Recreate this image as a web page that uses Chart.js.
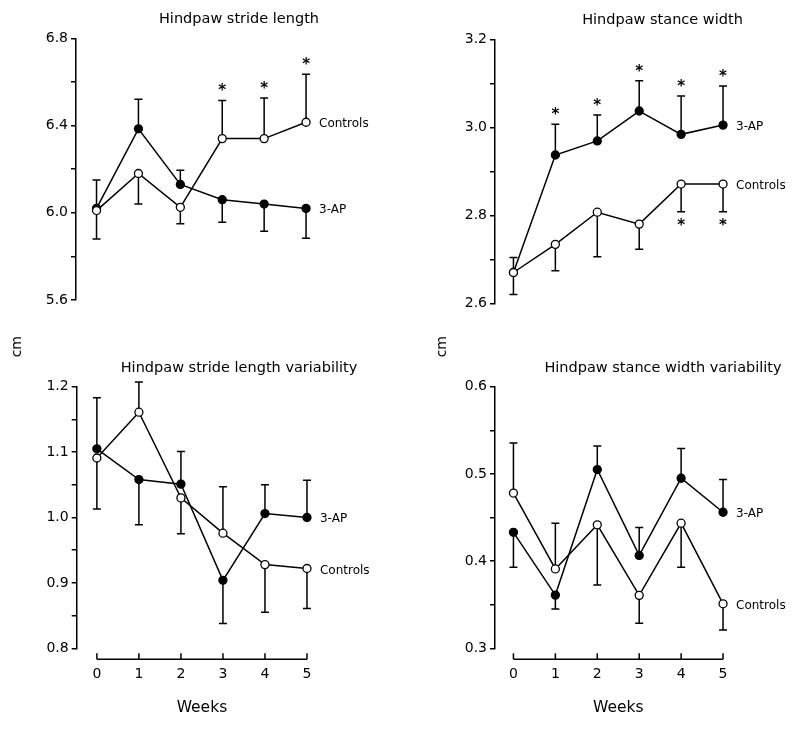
<!DOCTYPE html>
<html><head><meta charset="utf-8">
<script src="https://cdn.jsdelivr.net/npm/chart.js@4.4.1/dist/chart.umd.min.js"></script>
<style>
html,body{margin:0;padding:0;background:#fff;}
#wrap{position:relative;width:800px;height:733px;overflow:hidden;background:#fff;}
#wrap canvas{position:absolute;left:0;top:0;}
</style></head><body>
<div id="wrap">
<canvas id="c1" width="800" height="733"></canvas>
<canvas id="c2" width="800" height="733"></canvas>
<canvas id="c3" width="800" height="733"></canvas>
<canvas id="c4" width="800" height="733"></canvas>
</div>
<script>
// ---------- data ----------
const weeks = [0, 1, 2, 3, 4, 5];
const weekLabels = ['0', '1', '2', '3', '4', '5'];
const seriesNames = ['3-AP', 'Controls'];
const xTitle = 'Weeks';
const yUnit = 'cm';

// Panel 1: Hindpaw stride length
const title1 = 'Hindpaw stride length';
const ticks1 = [5.6, 6.0, 6.4, 6.8];
const ap1 = [6.02, 6.385, 6.13, 6.06, 6.04, 6.02];
const ap1Err = [0.14, 0.135, 0.065, 0.104, 0.125, 0.137];
const ap1Side = [-1, 1, 1, -1, -1, -1];
const ap1Sig = [0, 0, 0, 0, 0, 0];
const ctl1 = [6.01, 6.18, 6.025, 6.34, 6.34, 6.415];
const ctl1Err = [0.14, 0.14, 0.075, 0.175, 0.186, 0.22];
const ctl1Side = [1, -1, -1, 1, 1, 1];
const ctl1Sig = [0, 0, 0, 1, 1, 1];

// Panel 2: Hindpaw stance width
const title2 = 'Hindpaw stance width';
const ticks2 = [2.6, 2.8, 3.0, 3.2];
const ap2 = [2.67, 2.937, 2.969, 3.037, 2.984, 3.005];
const ap2Err = [0.034, 0.07, 0.059, 0.069, 0.087, 0.089];
const ap2Side = [1, 1, 1, 1, 1, 1];
const ap2Sig = [0, 1, 1, 1, 1, 1];
const ctl2 = [2.67, 2.734, 2.807, 2.78, 2.871, 2.871];
const ctl2Err = [0.05, 0.06, 0.101, 0.057, 0.063, 0.063];
const ctl2Side = [-1, -1, -1, -1, -1, -1];
const ctl2Sig = [0, 0, 0, 0, 1, 1];

// Panel 3: Hindpaw stride length variability
const title3 = 'Hindpaw stride length variability';
const ticks3 = [0.8, 0.9, 1.0, 1.1, 1.2];
const ap3 = [1.105, 1.058, 1.051, 0.904, 1.006, 1.0];
const ap3Err = [0.078, 0.069, 0.05, 0.066, 0.044, 0.057];
const ap3Side = [1, -1, 1, -1, 1, 1];
const ap3Sig = [0, 0, 0, 0, 0, 0];
const ctl3 = [1.091, 1.161, 1.03, 0.976, 0.928, 0.922];
const ctl3Err = [0.078, 0.046, 0.055, 0.071, 0.073, 0.061];
const ctl3Side = [-1, 1, -1, 1, -1, -1];
const ctl3Sig = [0, 0, 0, 0, 0, 0];

// Panel 4: Hindpaw stance width variability
const title4 = 'Hindpaw stance width variability';
const ticks4 = [0.3, 0.4, 0.5, 0.6];
const ap4 = [0.433, 0.361, 0.505, 0.4065, 0.495, 0.456];
const ap4Err = [0.04, 0.016, 0.027, 0.032, 0.034, 0.0375];
const ap4Side = [-1, -1, 1, 1, 1, 1];
const ap4Sig = [0, 0, 0, 0, 0, 0];
const ctl4 = [0.478, 0.391, 0.4416, 0.3607, 0.4435, 0.351];
const ctl4Err = [0.0575, 0.0525, 0.069, 0.032, 0.0505, 0.03];
const ctl4Side = [1, 1, -1, -1, -1, -1];
const ctl4Sig = [0, 0, 0, 0, 0, 0];

// ---------- styling ----------
const FONT = '"DejaVu Sans", "Liberation Sans", Arial, sans-serif';
const INK = '#000';
const LW = 1.5;

function pts(vals) { return weeks.map((w, i) => ({ x: w, y: vals[i] })); }

function textCenteredY(ctx, str, x, yc) {
  const m = ctx.measureText(str);
  const a = m.actualBoundingBoxAscent, d = m.actualBoundingBoxDescent;
  ctx.textBaseline = 'alphabetic';
  ctx.fillText(str, x, yc + (a - d) / 2);
}

const panelPlugin = {
  id: 'panel',
  beforeDatasetsDraw(chart) {
    const ctx = chart.ctx, xs = chart.scales.x, ys = chart.scales.y;
    ctx.save();
    ctx.strokeStyle = INK; ctx.lineWidth = LW;
    chart.data.datasets.forEach(ds => {
      ds.data.forEach((p, i) => {
        const x = xs.getPixelForValue(p.x);
        const y0 = ys.getPixelForValue(p.y);
        const y1 = ys.getPixelForValue(p.y + ds.errSide[i] * ds.err[i]);
        ctx.beginPath();
        ctx.moveTo(x, y0); ctx.lineTo(x, y1);
        ctx.moveTo(x - 4, y1); ctx.lineTo(x + 4, y1);
        ctx.stroke();
      });
    });
    ctx.restore();
  },
  afterDatasetsDraw(chart) {
    const ctx = chart.ctx, xs = chart.scales.x, ys = chart.scales.y;
    const ca = chart.chartArea;
    const o = chart.options.plugins.panel;
    ctx.save();
    ctx.fillStyle = INK; ctx.strokeStyle = INK;
    // asterisks
    ctx.font = 'bold 15px ' + FONT;
    ctx.textAlign = 'center';
    chart.data.datasets.forEach(ds => {
      ds.data.forEach((p, i) => {
        if (!ds.sig[i]) return;
        const x = xs.getPixelForValue(p.x);
        const y1 = ys.getPixelForValue(p.y + ds.errSide[i] * ds.err[i]);
        const yc = ds.errSide[i] > 0 ? y1 - 13 : y1 + 10;
        textCenteredY(ctx, '*', x, yc);
      });
    });
    // series labels at last point
    ctx.font = '12px ' + FONT;
    ctx.textAlign = 'left';
    chart.data.datasets.forEach(ds => {
      const p = ds.data[ds.data.length - 1];
      textCenteredY(ctx, ds.label, xs.getPixelForValue(p.x) + 13, ys.getPixelForValue(p.y));
    });
    // title
    ctx.font = '14.5px ' + FONT;
    ctx.textAlign = 'center';
    textCenteredY(ctx, o.title, o.titleX, ca.top - 19);
    // bottom axis
    if (o.bottomAxis) {
      const yA = ca.bottom + 11;
      const xa = xs.getPixelForValue(weeks[0]), xb = xs.getPixelForValue(weeks[weeks.length - 1]);
      ctx.lineWidth = LW;
      ctx.beginPath();
      ctx.moveTo(xa, yA); ctx.lineTo(xb, yA);
      weeks.forEach(w => {
        const x = xs.getPixelForValue(w);
        ctx.moveTo(x, yA); ctx.lineTo(x, yA - 6);
      });
      ctx.stroke();
      ctx.font = '14px ' + FONT;
      ctx.textAlign = 'center';
      weeks.forEach((w, i) => textCenteredY(ctx, weekLabels[i], xs.getPixelForValue(w), yA + 14));
      ctx.font = '15.5px ' + FONT;
      textCenteredY(ctx, xTitle, (xa + xb) / 2, yA + 47);
      // unit label
      ctx.save();
      ctx.font = '14px ' + FONT;
      ctx.translate(o.unitX, ca.top - 40);
      ctx.rotate(-Math.PI / 2);
      ctx.textAlign = 'center';
      textCenteredY(ctx, yUnit, 0, 0);
      ctx.restore();
    }
    ctx.restore();
  }
};

function makePanel(id, cfg) {
  const ds = (label, vals, err, side, sig, filled) => ({
    label, data: pts(vals), err, errSide: side, sig,
    borderColor: INK, borderWidth: LW,
    pointRadius: 4, pointHoverRadius: 4,
    pointBackgroundColor: filled ? INK : '#fff',
    pointBorderColor: INK, pointBorderWidth: 1.3,
    tension: 0, fill: false
  });
  const yW = 50;
  new Chart(document.getElementById(id), {
    type: 'line',
    data: {
      datasets: [
        ds(seriesNames[1], cfg.ctl, cfg.ctlErr, cfg.ctlSide, cfg.ctlSig, false),
        ds(seriesNames[0], cfg.ap, cfg.apErr, cfg.apSide, cfg.apSig, true)
      ]
    },
    options: {
      responsive: false,
      animation: false,
      events: [],
      layout: { padding: { left: cfg.left - yW, right: 800 - cfg.right, top: cfg.top, bottom: 733 - cfg.bottom } },
      plugins: {
        legend: { display: false }, tooltip: { enabled: false },
        panel: { title: cfg.title, titleX: cfg.titleX, bottomAxis: cfg.bottomAxis, unitX: cfg.unitX }
      },
      scales: {
        x: { type: 'linear', min: cfg.xmin, max: 5.5, display: false },
        y: {
          min: cfg.ticks[0], max: cfg.ticks[cfg.ticks.length - 1],
          afterFit(s) { s.width = yW; },
          border: { display: true, color: INK, width: LW },
          grid: { drawOnChartArea: false, drawTicks: true, tickLength: 5, color: INK, lineWidth: LW },
          ticks: {
            stepSize: cfg.minor, color: INK, padding: 3,
            font: { family: FONT, size: 14 },
            callback(v) {
              const hit = cfg.ticks.find(t => Math.abs(t - v) < 1e-6);
              return hit === undefined ? '' : hit.toFixed(1);
            }
          }
        }
      }
    },
    plugins: [panelPlugin]
  });
}

makePanel('c1', { title: title1, titleX: 239, ticks: ticks1, minor: 0.2,
  ap: ap1, apErr: ap1Err, apSide: ap1Side, apSig: ap1Sig,
  ctl: ctl1, ctlErr: ctl1Err, ctlSide: ctl1Side, ctlSig: ctl1Sig,
  left: 76, right: 327, top: 38.3, bottom: 300, xmin: -0.49, bottomAxis: false });
makePanel('c2', { title: title2, titleX: 662.5, ticks: ticks2, minor: 0.1,
  ap: ap2, apErr: ap2Err, apSide: ap2Side, apSig: ap2Sig,
  ctl: ctl2, ctlErr: ctl2Err, ctlSide: ctl2Side, ctlSig: ctl2Sig,
  left: 495, right: 744, top: 39.3, bottom: 303.3, xmin: -0.44, bottomAxis: false });
makePanel('c3', { title: title3, titleX: 239, ticks: ticks3, minor: 0.05,
  ap: ap3, apErr: ap3Err, apSide: ap3Side, apSig: ap3Sig,
  ctl: ctl3, ctlErr: ctl3Err, ctlSide: ctl3Side, ctlSig: ctl3Sig,
  left: 76.7, right: 328, top: 386.7, bottom: 648.3, xmin: -0.48, bottomAxis: true, unitX: 17 });
makePanel('c4', { title: title4, titleX: 663, ticks: ticks4, minor: 0.05,
  ap: ap4, apErr: ap4Err, apSide: ap4Side, apSig: ap4Sig,
  ctl: ctl4, ctlErr: ctl4Err, ctlSide: ctl4Side, ctlSig: ctl4Sig,
  left: 495, right: 744, top: 386.7, bottom: 648.3, xmin: -0.44, bottomAxis: true, unitX: 442 });
</script>
</body></html>
